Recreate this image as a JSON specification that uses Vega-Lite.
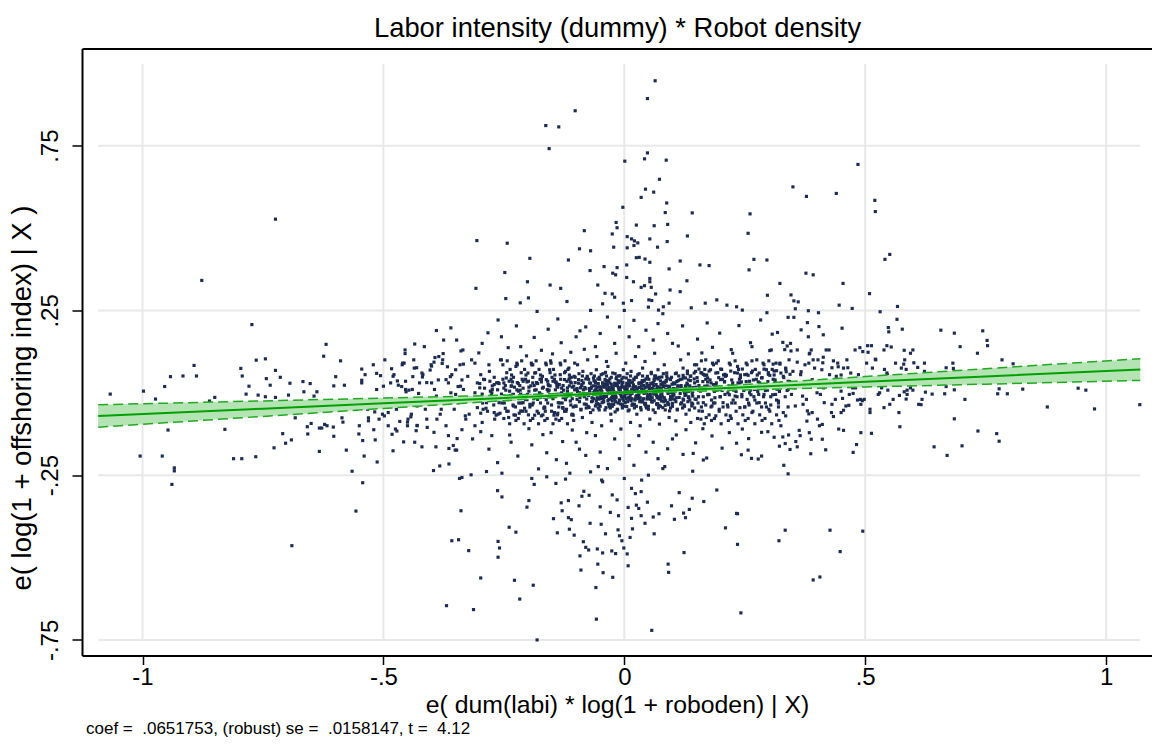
{
"$schema": "https://vega.github.io/schema/vega-lite/v6.json",
"autosize": "none",
"width": 1070,
"height": 607,
"padding": {"left": 82, "top": 48.5, "right": 0, "bottom": 97.5},
"background": "white",
"config": {"view": {"stroke": null}, "font": "Liberation Sans"},
"title": {"text": "coef = \u00a0.0651753, (robust) se = \u00a0.0158147, t = \u00a04.12", "orient": "bottom", "anchor": "start", "frame": "group", "font": "Liberation Sans", "fontSize": 17, "fontWeight": "normal", "color": "black", "offset": 4, "dx": 4},
"datasets": {
"hgrid": [{"v": -0.75}, {"v": -0.25}, {"v": 0.25}, {"v": 0.75}],
"vgrid": [{"v": -1}, {"v": -0.5}, {"v": 0}, {"v": 0.5}, {"v": 1}],
"fit": [{"x":-1.092,"fit":-0.0704,"lo":-0.1044,"hi":-0.0364},{"x":-0.75,"fit":-0.0481,"lo":-0.0716,"hi":-0.0246},{"x":-0.5,"fit":-0.0318,"lo":-0.0476,"hi":-0.016},{"x":-0.25,"fit":-0.0155,"lo":-0.0238,"hi":-0.0072},{"x":0,"fit":0.0008,"lo":-0.0022,"hi":0.0038},{"x":0.25,"fit":0.0171,"lo":0.0088,"hi":0.0254},{"x":0.5,"fit":0.0334,"lo":0.0176,"hi":0.0492},{"x":0.75,"fit":0.0497,"lo":0.0262,"hi":0.0732},{"x":1.071,"fit":0.0706,"lo":0.0376,"hi":0.1036}],
"pts": [
{"x":0.064,"y":0.947},{"x":0.048,"y":0.893},{"x":-0.102,"y":0.856},{"x":-0.163,"y":0.811},{"x":-0.136,"y":0.807},{"x":-0.156,"y":0.741},{"x":0.048,"y":0.728},{"x":0.042,"y":0.71},{"x":0.087,"y":0.706},{"x":0.001,"y":0.703},{"x":0.485,"y":0.693},{"x":0.073,"y":0.648},{"x":0.044,"y":0.618},{"x":0.061,"y":0.609},{"x":0.35,"y":0.625},{"x":0.378,"y":0.596},{"x":0.44,"y":0.605},{"x":0.52,"y":0.584},{"x":0.521,"y":0.55},{"x":0.035,"y":0.593},{"x":0.088,"y":0.576},{"x":0.085,"y":0.547},{"x":0.141,"y":0.546},{"x":0.261,"y":0.543},{"x":-0.003,"y":0.563},{"x":-0.017,"y":0.517},{"x":-0.015,"y":0.501},{"x":-0.025,"y":0.482},{"x":0.025,"y":0.509},{"x":0.062,"y":0.507},{"x":0.09,"y":0.511},{"x":-0.083,"y":0.492},{"x":-0.306,"y":0.462},{"x":-0.243,"y":0.454},{"x":0.006,"y":0.474},{"x":0.015,"y":0.467},{"x":0.021,"y":0.461},{"x":0.028,"y":0.455},{"x":0.053,"y":0.467},{"x":0.131,"y":0.476},{"x":0.257,"y":0.484},{"x":0.089,"y":0.459},{"x":-0.022,"y":0.442},{"x":0.006,"y":0.44},{"x":0.02,"y":0.447},{"x":0.069,"y":0.442},{"x":-0.093,"y":0.437},{"x":-0.07,"y":0.431},{"x":0.551,"y":0.42},{"x":0.541,"y":0.405},{"x":-0.724,"y":0.527},
{"x":-0.877,"y":0.341},{"x":-0.773,"y":0.207},{"x":-0.619,"y":0.147},{"x":-0.624,"y":0.111},{"x":-0.589,"y":0.097},{"x":-0.764,"y":0.099},{"x":-0.745,"y":0.103},{"x":-0.893,"y":0.083},{"x":-0.796,"y":0.074},{"x":-0.942,"y":0.049},{"x":-0.916,"y":0.051},{"x":-0.888,"y":0.051},{"x":-0.793,"y":0.051},{"x":-0.954,"y":0.019},{"x":-0.998,"y":0.005},{"x":-1.067,"y":-0.004},{"x":-0.973,"y":-0.019},{"x":-0.85,"y":-0.014},{"x":-0.861,"y":-0.025},{"x":-0.724,"y":0.068},{"x":-0.743,"y":0.043},{"x":-0.735,"y":0.023},{"x":-0.714,"y":0.047},{"x":-0.779,"y":0.02},{"x":-0.785,"y":-0.004},{"x":-0.76,"y":-0.007},{"x":-0.745,"y":-0.012},{"x":-0.724,"y":-0.014},{"x":-0.694,"y":0.029},{"x":-0.667,"y":0.034},{"x":-0.652,"y":0.028},{"x":-0.638,"y":0.003},{"x":-0.697,"y":-0.007},{"x":-0.665,"y":0.003},{"x":-0.644,"y":-0.01},{"x":-0.603,"y":0.021},{"x":-0.599,"y":0.049},{"x":-0.581,"y":0.023},{"x":-0.545,"y":0.072},{"x":-0.545,"y":0.038},{"x":-0.514,"y":0.059},{"x":-0.506,"y":0.052},{"x":-0.483,"y":0.073},{"x":-0.455,"y":0.119},{"x":-0.435,"y":0.148},{"x":-0.457,"y":0.09},{"x":-0.431,"y":0.076},{"x":-0.436,"y":0.075},{"x":-0.39,"y":0.189},{"x":-0.36,"y":0.197},{"x":-0.348,"y":0.16},{"x":-0.339,"y":0.127},{"x":-0.393,"y":0.107},{"x":-0.376,"y":0.119},
{"x":-0.947,"y":-0.113},{"x":-1.005,"y":-0.192},{"x":-0.959,"y":-0.192},{"x":-0.934,"y":-0.228},{"x":-0.934,"y":-0.237},{"x":-0.939,"y":-0.278},{"x":-0.829,"y":-0.111},{"x":-0.811,"y":-0.2},{"x":-0.794,"y":-0.2},{"x":-0.765,"y":-0.194},{"x":-0.727,"y":-0.167},{"x":-0.709,"y":-0.124},{"x":-0.703,"y":-0.153},{"x":-0.691,"y":-0.143},{"x":-0.683,"y":-0.076},{"x":-0.658,"y":-0.103},{"x":-0.657,"y":-0.125},{"x":-0.65,"y":-0.093},{"x":-0.633,"y":-0.107},{"x":-0.628,"y":-0.107},{"x":-0.622,"y":-0.096},{"x":-0.617,"y":-0.1},{"x":-0.604,"y":-0.104},{"x":-0.603,"y":-0.132},{"x":-0.633,"y":-0.178},{"x":-0.577,"y":-0.174},{"x":-0.565,"y":-0.238},{"x":-0.543,"y":-0.273},{"x":-0.557,"y":-0.359},{"x":-0.69,"y":-0.464},{"x":-0.54,"y":-0.192},{"x":-0.513,"y":-0.21},{"x":-0.517,"y":-0.143},{"x":-0.543,"y":-0.145},{"x":-0.551,"y":-0.125},{"x":-0.586,"y":-0.076},{"x":-0.584,"y":-0.089},{"x":-0.531,"y":-0.076},{"x":-0.531,"y":-0.085},{"x":-0.52,"y":-0.112},{"x":-0.518,"y":-0.058},
{"x":-0.498,"y":-0.07},{"x":-0.482,"y":-0.126},{"x":-0.472,"y":-0.116},{"x":-0.48,"y":-0.176},{"x":-0.458,"y":-0.149},{"x":-0.466,"y":-0.087},{"x":-0.45,"y":-0.089},{"x":-0.443,"y":-0.073},{"x":-0.432,"y":-0.115},{"x":-0.43,"y":-0.099},{"x":-0.42,"y":-0.164},{"x":-0.409,"y":-0.105},{"x":-0.391,"y":-0.164},{"x":-0.396,"y":-0.236},{"x":-0.383,"y":-0.222},{"x":-0.364,"y":-0.216},{"x":-0.364,"y":-0.169},{"x":-0.347,"y":-0.139},{"x":-0.348,"y":-0.174},{"x":-0.337,"y":-0.112},{"x":-0.337,"y":-0.257},{"x":-0.339,"y":-0.358},{"x":-0.358,"y":-0.449},{"x":-0.344,"y":-0.446},
{"x":-0.471,"y":0.036},{"x":-0.469,"y":0.023},{"x":-0.462,"y":0.019},{"x":-0.454,"y":0.035},{"x":-0.453,"y":0.003},{"x":-0.447,"y":0.008},{"x":-0.439,"y":0.049},{"x":-0.427,"y":-0.002},{"x":-0.419,"y":0.048},{"x":-0.41,"y":0.031},{"x":-0.403,"y":0.069},{"x":-0.4,"y":0.081},{"x":-0.395,"y":0.093},{"x":-0.386,"y":0.039},{"x":-0.378,"y":0.089},{"x":-0.367,"y":0.079},{"x":-0.361,"y":0.049},{"x":-0.345,"y":0.019},{"x":-0.334,"y":0.087},{"x":-0.337,"y":0.039},
{"x":0.377,"y":0.363},{"x":0.392,"y":0.358},{"x":0.454,"y":0.332},{"x":0.509,"y":0.301},{"x":0.352,"y":0.279},{"x":0.446,"y":0.266},{"x":0.473,"y":0.256},{"x":0.355,"y":0.255},{"x":0.382,"y":0.249},{"x":0.403,"y":0.243},{"x":0.531,"y":0.246},{"x":0.567,"y":0.262},{"x":0.566,"y":0.223},{"x":0.34,"y":0.229},{"x":0.352,"y":0.229},{"x":0.38,"y":0.213},{"x":0.404,"y":0.201},{"x":0.452,"y":0.196},{"x":0.367,"y":0.191},{"x":0.413,"y":0.176},{"x":0.382,"y":0.17},
{"x":0.548,"y":0.198},{"x":0.549,"y":0.185},{"x":0.577,"y":0.193},{"x":0.657,"y":0.19},{"x":0.685,"y":0.181},{"x":0.744,"y":0.188},{"x":0.753,"y":0.159},{"x":0.754,"y":0.143},{"x":0.697,"y":0.14},
{"x":0.489,"y":0.137},{"x":0.505,"y":0.143},{"x":0.513,"y":0.143},{"x":0.495,"y":0.125},{"x":0.506,"y":0.123},{"x":0.545,"y":0.143},{"x":0.554,"y":0.139},{"x":0.581,"y":0.129},{"x":0.594,"y":0.12},{"x":0.521,"y":0.102},{"x":0.601,"y":0.091},{"x":0.58,"y":0.087},{"x":0.585,"y":0.071},{"x":0.609,"y":0.077},{"x":0.623,"y":0.065},{"x":0.668,"y":0.076},{"x":0.682,"y":0.09},{"x":0.683,"y":0.074},{"x":0.733,"y":0.12},{"x":0.784,"y":0.1},{"x":0.807,"y":0.088},{"x":0.54,"y":0.071},
{"x":0.547,"y":0.008},{"x":0.571,"y":-0.008},{"x":0.581,"y":0.003},{"x":0.585,"y":-0.019},{"x":0.587,"y":0.008},{"x":0.599,"y":0.008},{"x":0.616,"y":-0.036},{"x":0.625,"y":0.002},{"x":0.639,"y":-0.004},{"x":0.665,"y":-0.003},{"x":0.707,"y":-0.02},{"x":0.685,"y":0.009},{"x":0.668,"y":0.019},{"x":0.775,"y":-0.003},{"x":0.795,"y":-0.003},{"x":0.778,"y":0.012},{"x":0.827,"y":0.011},{"x":0.942,"y":0.014},{"x":0.958,"y":0.008},{"x":0.878,"y":-0.043},{"x":0.976,"y":-0.049},{"x":1.07,"y":-0.036},{"x":0.539,"y":-0.045},{"x":0.572,"y":-0.103},{"x":0.685,"y":-0.079},{"x":0.734,"y":-0.116},{"x":0.773,"y":-0.124},{"x":0.778,"y":-0.147},{"x":0.701,"y":-0.161},{"x":0.643,"y":-0.164},{"x":0.67,"y":-0.19},
{"x":0.513,"y":-0.123},{"x":0.491,"y":-0.121},{"x":0.482,"y":-0.157},{"x":0.475,"y":-0.181},{"x":0.455,"y":-0.114},{"x":0.418,"y":-0.173},{"x":0.411,"y":-0.141},{"x":0.388,"y":-0.141},{"x":0.387,"y":-0.185},{"x":0.384,"y":-0.121},{"x":0.363,"y":-0.114},{"x":0.359,"y":-0.164},{"x":0.356,"y":-0.148},{"x":0.344,"y":-0.172},{"x":0.334,"y":-0.154},{"x":0.331,"y":-0.22},{"x":0.34,"y":-0.246},{"x":0.334,"y":-0.417},{"x":0.321,"y":-0.449},{"x":0.427,"y":-0.417},{"x":0.448,"y":-0.482},{"x":0.311,"y":-0.135},{"x":0.329,"y":-0.134},
{"x":0.434,"y":-0.072},{"x":0.455,"y":-0.053},{"x":0.466,"y":-0.038},{"x":0.475,"y":-0.002},{"x":0.484,"y":-0.022},{"x":0.494,"y":-0.024},{"x":0.453,"y":-0.017},{"x":0.411,"y":-0.096},{"x":0.401,"y":-0.08},{"x":0.383,"y":-0.064},{"x":0.379,"y":-0.086},
{"x":0.431,"y":0.076},{"x":0.444,"y":0.079},{"x":0.464,"y":0.076},{"x":0.45,"y":0.054},{"x":0.466,"y":0.019},{"x":0.434,"y":0.097},{"x":0.413,"y":0.108},{"x":0.412,"y":0.091},{"x":0.392,"y":0.1},{"x":0.388,"y":0.13},{"x":0.384,"y":0.118},{"x":0.359,"y":0.093},{"x":0.367,"y":0.064},{"x":0.346,"y":0.127},{"x":0.333,"y":0.131},{"x":0.329,"y":0.153},{"x":0.307,"y":0.178},{"x":0.309,"y":0.087},{"x":0.316,"y":0.067},{"x":0.323,"y":0.087},{"x":0.336,"y":0.064},
{"x":-0.263,"y":-0.297},{"x":-0.254,"y":-0.316},{"x":-0.187,"y":-0.278},{"x":-0.142,"y":-0.275},{"x":-0.323,"y":-0.479},{"x":-0.298,"y":-0.562},{"x":-0.369,"y":-0.646},{"x":-0.313,"y":-0.658},{"x":-0.262,"y":-0.451},{"x":-0.259,"y":-0.471},{"x":-0.262,"y":-0.499},{"x":-0.239,"y":-0.408},{"x":-0.225,"y":-0.423},{"x":-0.228,"y":-0.569},{"x":-0.217,"y":-0.626},{"x":-0.189,"y":-0.584},{"x":-0.198,"y":-0.327},{"x":-0.202,"y":-0.347},{"x":-0.181,"y":-0.75},
{"x":-0.131,"y":-0.334},{"x":-0.129,"y":-0.358},{"x":-0.116,"y":-0.327},{"x":-0.147,"y":-0.382},{"x":-0.139,"y":-0.425},{"x":-0.116,"y":-0.379},{"x":-0.11,"y":-0.385},{"x":-0.114,"y":-0.414},{"x":-0.104,"y":-0.432},{"x":-0.094,"y":-0.343},{"x":-0.092,"y":-0.495},{"x":-0.09,"y":-0.538},{"x":-0.088,"y":-0.314},{"x":-0.084,"y":-0.299},{"x":-0.073,"y":-0.311},{"x":-0.085,"y":-0.452},{"x":-0.08,"y":-0.469},{"x":-0.074,"y":-0.477},{"x":-0.071,"y":-0.396},{"x":-0.059,"y":-0.591},{"x":-0.058,"y":-0.687},{"x":-0.056,"y":-0.474},{"x":-0.055,"y":-0.52},{"x":-0.05,"y":-0.346},{"x":-0.048,"y":-0.399},{"x":-0.045,"y":-0.486},{"x":-0.044,"y":-0.546},{"x":-0.039,"y":-0.428},{"x":-0.029,"y":-0.363},{"x":-0.026,"y":-0.48},{"x":-0.024,"y":-0.56},{"x":-0.018,"y":-0.488},{"x":-0.015,"y":-0.325},{"x":-0.013,"y":-0.416},{"x":-0.012,"y":-0.373},{"x":-0.01,"y":-0.434},{"x":-0.005,"y":-0.449},{"x":-0.001,"y":-0.471},{"x":0.006,"y":-0.489},{"x":0.008,"y":-0.525},{"x":0.008,"y":-0.348},{"x":0.012,"y":-0.439},{"x":0.015,"y":-0.381},{"x":0.017,"y":-0.413},{"x":0.023,"y":-0.306},{"x":0.025,"y":-0.341},{"x":0.03,"y":-0.351},{"x":0.035,"y":-0.373},{"x":0.043,"y":-0.396},{"x":0.048,"y":-0.332},{"x":0.057,"y":-0.721},{"x":0.06,"y":-0.377},{"x":0.062,"y":-0.428},{"x":0.072,"y":-0.367},{"x":0.091,"y":-0.52},{"x":0.092,"y":-0.545},{"x":0.098,"y":-0.343},{"x":0.104,"y":-0.384},{"x":0.114,"y":-0.303},{"x":0.123,"y":-0.365},{"x":0.124,"y":-0.485},{"x":0.127,"y":-0.379},{"x":0.135,"y":-0.354},{"x":0.141,"y":-0.32},{"x":0.235,"y":-0.367},{"x":0.235,"y":-0.46},
{"x":0.242,"y":-0.668},{"x":0.392,"y":-0.568},{"x":0.406,"y":-0.559},{"x":0.495,"y":-0.42},{"x":0.192,"y":-0.295},{"x":0.165,"y":-0.33},{"x":0.21,"y":-0.41},{"x":0.233,"y":-0.366},
{"x":-0.196,"y":0.408},{"x":-0.116,"y":0.403},{"x":-0.248,"y":0.365},{"x":-0.308,"y":0.317},{"x":-0.201,"y":0.337},{"x":-0.154,"y":0.327},{"x":-0.132,"y":0.317},{"x":-0.246,"y":0.286},{"x":-0.216,"y":0.273},{"x":-0.199,"y":0.288},{"x":-0.071,"y":0.371},{"x":-0.042,"y":0.383},{"x":-0.024,"y":0.363},{"x":-0.018,"y":0.358},{"x":-0.055,"y":0.327},{"x":-0.04,"y":0.302},{"x":-0.02,"y":0.29},{"x":-0.002,"y":0.272},{"x":0.005,"y":0.388},{"x":0.031,"y":0.411},{"x":0.043,"y":0.406},{"x":0.053,"y":0.396},{"x":0.053,"y":0.347},{"x":0.053,"y":0.337},{"x":0.019,"y":0.337},{"x":0.042,"y":0.325},{"x":0.056,"y":0.32},{"x":0.093,"y":0.376},{"x":0.116,"y":0.4},{"x":0.13,"y":0.34},{"x":0.157,"y":0.388},{"x":0.176,"y":0.386},{"x":0.051,"y":0.282},{"x":0.057,"y":0.28},{"x":0.095,"y":0.312},{"x":0.116,"y":0.307},{"x":0.093,"y":0.272},{"x":0.081,"y":0.261},{"x":0.071,"y":0.251},{"x":0.168,"y":0.272},{"x":0.192,"y":0.282},{"x":0.213,"y":0.266},{"x":0.233,"y":0.261},{"x":0.245,"y":0.251},{"x":0.259,"y":0.373},{"x":0.269,"y":0.405},{"x":0.296,"y":0.403},{"x":0.323,"y":0.332},{"x":0.297,"y":0.296},{"x":0.346,"y":0.297},{"x":0.361,"y":0.276},{"x":0.296,"y":0.243},
{"x":-0.351,"y":-0.174},{"x":-0.342,"y":-0.26},{"x":-0.318,"y":-0.249},{"x":-0.286,"y":-0.239},{"x":-0.254,"y":-0.244},{"x":-0.192,"y":-0.26},{"x":-0.161,"y":-0.255},{"x":-0.12,"y":-0.214},{"x":-0.113,"y":-0.244},{"x":-0.054,"y":-0.224},{"x":-0.047,"y":-0.265},{"x":0.036,"y":-0.265},{"x":0.084,"y":-0.224},{"x":0.143,"y":-0.184},{"x":0.164,"y":-0.204},{"x":0.233,"y":-0.153},{"x":0.257,"y":-0.174},{"x":0.264,"y":-0.199},{"x":0.285,"y":-0.192},
{"x":-0.19,"y":0.03},{"x":-0.18,"y":-0.02},{"x":-0.17,"y":0.05},{"x":-0.165,"y":-0.045},{"x":-0.16,"y":0.01},{"x":-0.155,"y":0.07},{"x":-0.15,"y":-0.01},{"x":-0.148,"y":0.035},{"x":-0.145,"y":-0.06},{"x":-0.14,"y":0.02},{"x":-0.137,"y":-0.03},{"x":-0.133,"y":0.055},{"x":-0.13,"y":0.0},{"x":-0.127,"y":-0.015},{"x":-0.124,"y":0.04},{"x":-0.12,"y":-0.05},{"x":-0.118,"y":0.015},{"x":-0.115,"y":0.075},{"x":-0.112,"y":-0.025},{"x":-0.11,"y":0.03},{"x":-0.107,"y":-0.005},{"x":-0.104,"y":0.05},{"x":-0.102,"y":-0.04},{"x":-0.1,"y":0.01},{"x":-0.196,"y":-0.035},{"x":-0.186,"y":0.06},{"x":-0.176,"y":0.0},{"x":-0.172,"y":-0.07},{"x":-0.162,"y":0.04},{"x":-0.152,"y":0.09},{"x":-0.142,"y":-0.08},{"x":-0.135,"y":0.025},{"x":-0.122,"y":0.065},{"x":-0.108,"y":-0.065},{"x":-0.19,"y":0.085},{"x":-0.168,"y":-0.01},{"x":-0.158,"y":0.025},{"x":-0.128,"y":-0.045},{"x":-0.113,"y":0.045},{"x":-0.105,"y":0.02},
{"x":-0.098,"y":-0.02},{"x":-0.095,"y":0.04},{"x":-0.093,"y":0.0},{"x":-0.09,"y":-0.05},{"x":-0.088,"y":0.025},{"x":-0.086,"y":0.065},{"x":-0.083,"y":-0.012},{"x":-0.081,"y":0.012},{"x":-0.079,"y":-0.035},{"x":-0.077,"y":0.05},{"x":-0.075,"y":-0.003},{"x":-0.072,"y":0.03},{"x":-0.07,"y":-0.06},{"x":-0.068,"y":0.018},{"x":-0.066,"y":-0.025},{"x":-0.064,"y":0.045},{"x":-0.062,"y":0.005},{"x":-0.06,"y":-0.04},{"x":-0.058,"y":0.07},{"x":-0.056,"y":-0.015},{"x":-0.054,"y":0.028},{"x":-0.052,"y":-0.052},{"x":-0.05,"y":0.008},{"x":-0.048,"y":0.055},{"x":-0.046,"y":-0.03},{"x":-0.044,"y":0.02},{"x":-0.042,"y":-0.008},{"x":-0.04,"y":0.04},{"x":-0.038,"y":-0.045},{"x":-0.036,"y":0.012},{"x":-0.034,"y":0.08},{"x":-0.032,"y":-0.02},{"x":-0.03,"y":0.03},{"x":-0.028,"y":-0.065},{"x":-0.026,"y":0.002},{"x":-0.024,"y":0.06},{"x":-0.022,"y":-0.035},{"x":-0.02,"y":0.022},{"x":-0.018,"y":-0.01},{"x":-0.016,"y":0.048},{"x":-0.014,"y":-0.05},{"x":-0.012,"y":0.015},{"x":-0.01,"y":-0.022},{"x":-0.008,"y":0.035},{"x":-0.006,"y":0.0},{"x":-0.004,"y":-0.04},{"x":-0.002,"y":0.07},{"x":-0.097,"y":0.085},{"x":-0.087,"y":-0.075},{"x":-0.076,"y":0.1},{"x":-0.067,"y":-0.09},{"x":-0.057,"y":0.11},{"x":-0.047,"y":-0.1},{"x":-0.037,"y":0.095},{"x":-0.027,"y":-0.085},{"x":-0.017,"y":0.12},{"x":-0.007,"y":-0.11},{"x":-0.091,"y":0.015},{"x":-0.073,"y":-0.045},{"x":-0.061,"y":0.035},{"x":-0.049,"y":-0.018},{"x":-0.039,"y":0.062},{"x":-0.029,"y":0.01},{"x":-0.019,"y":-0.058},{"x":-0.009,"y":0.052},{"x":-0.003,"y":-0.015},{"x":-0.065,"y":0.0},{"x":-0.045,"y":0.03},{"x":-0.025,"y":-0.025},{"x":-0.005,"y":0.025},
{"x":0.002,"y":-0.03},{"x":0.004,"y":0.045},{"x":0.006,"y":0.01},{"x":0.008,"y":-0.055},{"x":0.01,"y":0.028},{"x":0.012,"y":-0.012},{"x":0.014,"y":0.065},{"x":0.016,"y":-0.038},{"x":0.018,"y":0.005},{"x":0.02,"y":0.04},{"x":0.022,"y":-0.022},{"x":0.024,"y":0.018},{"x":0.026,"y":-0.065},{"x":0.028,"y":0.055},{"x":0.03,"y":-0.005},{"x":0.032,"y":0.03},{"x":0.034,"y":-0.045},{"x":0.036,"y":0.012},{"x":0.038,"y":0.075},{"x":0.04,"y":-0.018},{"x":0.042,"y":0.038},{"x":0.044,"y":-0.032},{"x":0.046,"y":0.0},{"x":0.048,"y":0.05},{"x":0.05,"y":-0.05},{"x":0.052,"y":0.022},{"x":0.054,"y":-0.01},{"x":0.056,"y":0.062},{"x":0.058,"y":-0.028},{"x":0.06,"y":0.01},{"x":0.062,"y":0.042},{"x":0.064,"y":-0.06},{"x":0.066,"y":0.025},{"x":0.068,"y":-0.015},{"x":0.07,"y":0.07},{"x":0.072,"y":-0.038},{"x":0.074,"y":0.015},{"x":0.076,"y":-0.002},{"x":0.078,"y":0.048},{"x":0.08,"y":-0.045},{"x":0.082,"y":0.032},{"x":0.084,"y":-0.02},{"x":0.086,"y":0.008},{"x":0.088,"y":0.06},{"x":0.09,"y":-0.03},{"x":0.092,"y":0.02},{"x":0.094,"y":-0.055},{"x":0.096,"y":0.04},{"x":0.098,"y":0.0},{"x":0.003,"y":0.09},{"x":0.013,"y":-0.09},{"x":0.023,"y":0.11},{"x":0.033,"y":-0.1},{"x":0.043,"y":0.095},{"x":0.053,"y":-0.08},{"x":0.063,"y":0.12},{"x":0.073,"y":-0.095},{"x":0.083,"y":0.085},{"x":0.093,"y":-0.075},{"x":0.007,"y":0.02},{"x":0.017,"y":0.032},{"x":0.027,"y":-0.008},{"x":0.037,"y":-0.028},{"x":0.047,"y":0.028},{"x":0.057,"y":0.005},{"x":0.067,"y":0.045},{"x":0.077,"y":-0.025},{"x":0.087,"y":0.035},{"x":0.097,"y":-0.012},{"x":0.011,"y":-0.02},
{"x":0.102,"y":0.03},{"x":0.105,"y":-0.02},{"x":0.108,"y":0.06},{"x":0.11,"y":-0.05},{"x":0.113,"y":0.01},{"x":0.116,"y":0.04},{"x":0.119,"y":-0.03},{"x":0.122,"y":0.075},{"x":0.125,"y":0.0},{"x":0.128,"y":-0.065},{"x":0.131,"y":0.025},{"x":0.134,"y":-0.012},{"x":0.137,"y":0.05},{"x":0.14,"y":-0.04},{"x":0.143,"y":0.015},{"x":0.146,"y":0.085},{"x":0.149,"y":-0.02},{"x":0.152,"y":0.035},{"x":0.155,"y":-0.055},{"x":0.158,"y":0.005},{"x":0.161,"y":0.06},{"x":0.164,"y":-0.03},{"x":0.167,"y":0.02},{"x":0.17,"y":-0.075},{"x":0.173,"y":0.045},{"x":0.176,"y":-0.005},{"x":0.179,"y":0.07},{"x":0.182,"y":-0.04},{"x":0.185,"y":0.025},{"x":0.188,"y":-0.015},{"x":0.191,"y":0.09},{"x":0.194,"y":0.01},{"x":0.197,"y":-0.05},{"x":0.2,"y":0.04},{"x":0.107,"y":-0.085},{"x":0.117,"y":0.1},{"x":0.127,"y":0.045},{"x":0.138,"y":-0.09},{"x":0.148,"y":0.065},{"x":0.159,"y":-0.08},{"x":0.169,"y":0.1},{"x":0.18,"y":0.03},{"x":0.19,"y":-0.07},{"x":0.112,"y":0.02},{"x":0.142,"y":-0.01},
{"x":-0.059,"y":0.021},{"x":-0.055,"y":-0.033},{"x":-0.051,"y":0.041},{"x":-0.047,"y":0.004},{"x":-0.043,"y":-0.027},{"x":-0.041,"y":0.017},{"x":-0.037,"y":-0.011},{"x":-0.033,"y":0.036},{"x":-0.031,"y":-0.042},{"x":-0.027,"y":0.026},{"x":-0.023,"y":0.0},{"x":-0.021,"y":-0.019},{"x":-0.017,"y":0.043},{"x":-0.013,"y":-0.031},{"x":-0.011,"y":0.009},{"x":-0.007,"y":-0.006},{"x":-0.003,"y":0.031},{"x":-0.001,"y":-0.025},{"x":0.001,"y":0.012},{"x":0.005,"y":-0.042},{"x":0.009,"y":0.038},{"x":0.011,"y":0.002},{"x":0.015,"y":-0.018},{"x":0.019,"y":0.024},{"x":0.021,"y":-0.035},{"x":0.025,"y":0.047},{"x":0.029,"y":-0.009},{"x":0.031,"y":0.016},{"x":0.035,"y":-0.026},{"x":0.039,"y":0.034},{"x":0.041,"y":0.003},{"x":0.045,"y":-0.041},{"x":0.049,"y":0.019},{"x":0.051,"y":0.041},{"x":0.055,"y":-0.02},{"x":0.059,"y":0.028},{"x":0.061,"y":-0.004},{"x":0.065,"y":0.051},{"x":0.069,"y":-0.033},{"x":0.071,"y":0.007},{"x":0.075,"y":0.036},{"x":0.079,"y":-0.012},{"x":0.081,"y":0.019},{"x":0.085,"y":-0.038},{"x":0.089,"y":0.044},{"x":0.091,"y":0.002},{"x":0.095,"y":-0.021},{"x":0.099,"y":0.026},{"x":0.103,"y":-0.006},{"x":0.106,"y":0.012},{"x":0.109,"y":0.034},{"x":0.114,"y":-0.014},{"x":0.118,"y":0.022},{"x":-0.052,"y":0.018},{"x":-0.044,"y":-0.003},{"x":-0.035,"y":0.023},{"x":-0.026,"y":-0.014},{"x":-0.015,"y":0.027},{"x":-0.006,"y":-0.012},{"x":0.004,"y":0.021},{"x":0.013,"y":-0.004},{"x":0.022,"y":0.008},{"x":0.031,"y":-0.017},{"x":0.04,"y":0.022},{"x":0.049,"y":-0.007},{"x":0.058,"y":0.014},{"x":0.067,"y":-0.008},{"x":0.076,"y":0.025},{"x":0.085,"y":0.009},{"x":0.094,"y":0.014},{"x":0.1,"y":-0.032},{"x":-0.069,"y":0.013},{"x":-0.063,"y":-0.018},{"x":-0.074,"y":0.041},{"x":0.123,"y":-0.022},{"x":0.128,"y":0.018},{"x":0.133,"y":0.004},{"x":-0.08,"y":-0.005},{"x":-0.085,"y":0.03},
{"x":-0.5,"y":0.02},{"x":-0.49,"y":-0.06},{"x":-0.48,"y":0.05},{"x":-0.47,"y":-0.02},{"x":-0.46,"y":0.09},{"x":-0.45,"y":-0.1},{"x":-0.44,"y":0.01},{"x":-0.43,"y":-0.04},{"x":-0.42,"y":0.06},{"x":-0.41,"y":-0.08},{"x":-0.4,"y":0.03},{"x":-0.39,"y":-0.01},{"x":-0.385,"y":0.11},{"x":-0.38,"y":-0.05},{"x":-0.37,"y":0.04},{"x":-0.365,"y":-0.13},{"x":-0.36,"y":0.0},{"x":-0.35,"y":0.07},{"x":-0.345,"y":-0.03},{"x":-0.34,"y":0.02},{"x":-0.33,"y":-0.07},{"x":-0.325,"y":0.05},{"x":-0.32,"y":-0.015},{"x":-0.31,"y":0.09},{"x":-0.305,"y":-0.045},{"x":-0.3,"y":0.015},{"x":-0.295,"y":-0.09},{"x":-0.29,"y":0.04},{"x":-0.285,"y":-0.02},{"x":-0.28,"y":0.065},{"x":-0.275,"y":0.0},{"x":-0.27,"y":-0.06},{"x":-0.265,"y":0.03},{"x":-0.26,"y":-0.03},{"x":-0.255,"y":0.1},{"x":-0.25,"y":-0.01},{"x":-0.245,"y":0.045},{"x":-0.24,"y":-0.075},{"x":-0.235,"y":0.02},{"x":-0.23,"y":-0.04},{"x":-0.225,"y":0.08},{"x":-0.22,"y":0.005},{"x":-0.215,"y":-0.055},{"x":-0.21,"y":0.035},{"x":-0.205,"y":-0.02},{"x":-0.2,"y":0.06},{"x":-0.475,"y":-0.11},{"x":-0.455,"y":0.13},{"x":-0.435,"y":-0.15},{"x":-0.415,"y":0.14},{"x":-0.395,"y":-0.12},{"x":-0.375,"y":0.16},{"x":-0.355,"y":-0.16},{"x":-0.335,"y":0.13},{"x":-0.315,"y":-0.14},{"x":-0.295,"y":0.15},{"x":-0.275,"y":-0.13},{"x":-0.255,"y":0.17},{"x":-0.235,"y":-0.15},{"x":-0.215,"y":0.14},{"x":-0.31,"y":0.0},{"x":-0.27,"y":0.025},{"x":-0.23,"y":-0.005},{"x":-0.35,"y":-0.005},{"x":-0.25,"y":0.03},{"x":-0.21,"y":-0.03},
{"x":0.205,"y":-0.03},{"x":0.21,"y":0.05},{"x":0.215,"y":0.0},{"x":0.22,"y":-0.07},{"x":0.225,"y":0.03},{"x":0.23,"y":-0.01},{"x":0.235,"y":0.08},{"x":0.24,"y":-0.045},{"x":0.245,"y":0.015},{"x":0.25,"y":0.055},{"x":0.255,"y":-0.02},{"x":0.26,"y":0.035},{"x":0.265,"y":-0.06},{"x":0.27,"y":0.01},{"x":0.275,"y":0.1},{"x":0.28,"y":-0.03},{"x":0.285,"y":0.045},{"x":0.29,"y":-0.005},{"x":0.295,"y":0.07},{"x":0.3,"y":-0.05},{"x":0.31,"y":0.02},{"x":0.315,"y":0.09},{"x":0.32,"y":-0.025},{"x":0.33,"y":0.05},{"x":0.335,"y":-0.07},{"x":0.34,"y":0.01},{"x":0.35,"y":0.065},{"x":0.355,"y":-0.04},{"x":0.36,"y":0.03},{"x":0.37,"y":-0.01},{"x":0.375,"y":0.085},{"x":0.38,"y":-0.055},{"x":0.39,"y":0.04},{"x":0.4,"y":0.0},{"x":0.41,"y":0.07},{"x":0.415,"y":-0.03},{"x":0.42,"y":0.025},{"x":0.43,"y":-0.06},{"x":0.44,"y":0.05},{"x":0.45,"y":0.005},{"x":0.46,"y":-0.04},{"x":0.47,"y":0.06},{"x":0.48,"y":0.015},{"x":0.49,"y":-0.02},{"x":0.5,"y":0.045},{"x":0.51,"y":-0.05},{"x":0.52,"y":0.03},{"x":0.53,"y":0.0},{"x":0.545,"y":0.06},{"x":0.225,"y":0.12},{"x":0.245,"y":-0.11},{"x":0.265,"y":0.14},{"x":0.285,"y":-0.12},{"x":0.305,"y":0.13},{"x":0.325,"y":-0.1},{"x":0.345,"y":0.15},{"x":0.365,"y":-0.13},{"x":0.385,"y":0.12},{"x":0.405,"y":-0.1},{"x":0.425,"y":0.13},{"x":0.445,"y":-0.11},{"x":0.26,"y":0.0},{"x":0.3,"y":0.025},{"x":0.34,"y":0.035},{"x":0.24,"y":0.03},
{"x":-0.02,"y":0.15},{"x":0.01,"y":0.17},{"x":0.03,"y":0.14},{"x":-0.05,"y":0.18},{"x":0.06,"y":0.16},{"x":-0.01,"y":0.2},{"x":0.02,"y":0.22},{"x":0.045,"y":0.19},{"x":-0.035,"y":0.23},{"x":0.0,"y":0.25},{"x":0.07,"y":0.21},{"x":-0.06,"y":0.14},{"x":0.015,"y":0.28},{"x":-0.025,"y":0.3},{"x":0.05,"y":0.26},{"x":0.035,"y":0.32},{"x":-0.045,"y":0.27},{"x":0.005,"y":0.35},{"x":0.065,"y":0.3},{"x":-0.015,"y":0.38},{"x":0.025,"y":0.41},{"x":0.09,"y":0.18},{"x":-0.08,"y":0.2},{"x":0.1,"y":0.15},{"x":-0.1,"y":0.17},{"x":0.08,"y":0.24},{"x":-0.07,"y":0.25},
{"x":-0.02,"y":-0.14},{"x":0.01,"y":-0.16},{"x":0.03,"y":-0.13},{"x":-0.05,"y":-0.18},{"x":0.06,"y":-0.15},{"x":-0.01,"y":-0.2},{"x":0.02,"y":-0.22},{"x":0.045,"y":-0.18},{"x":-0.035,"y":-0.23},{"x":0.0,"y":-0.26},{"x":0.07,"y":-0.2},{"x":-0.06,"y":-0.13},{"x":0.015,"y":-0.29},{"x":-0.025,"y":-0.31},{"x":0.05,"y":-0.25},{"x":0.035,"y":-0.3},{"x":-0.045,"y":-0.27},{"x":-0.08,"y":-0.19},{"x":0.09,"y":-0.17},{"x":-0.1,"y":-0.15},{"x":0.1,"y":-0.14},{"x":0.08,"y":-0.23},{"x":-0.07,"y":-0.24},
{"x":-0.302,"y":0.121},{"x":-0.283,"y":0.182},{"x":-0.262,"y":0.221},{"x":-0.241,"y":0.137},{"x":-0.224,"y":0.203},{"x":-0.203,"y":0.112},{"x":-0.187,"y":0.168},{"x":-0.181,"y":0.247},{"x":-0.172,"y":0.129},{"x":-0.158,"y":0.193},{"x":-0.149,"y":0.118},{"x":-0.138,"y":0.224},{"x":-0.131,"y":0.152},{"x":-0.119,"y":0.277},{"x":-0.111,"y":0.123},{"x":-0.092,"y":0.188},{"x":-0.083,"y":0.132},{"x":0.112,"y":0.142},{"x":0.121,"y":0.203},{"x":0.133,"y":0.118},{"x":0.139,"y":0.258},{"x":0.152,"y":0.163},{"x":0.161,"y":0.121},{"x":0.172,"y":0.212},{"x":0.183,"y":0.138},{"x":0.198,"y":0.181},{"x":0.222,"y":0.131},{"x":0.238,"y":0.204},{"x":0.262,"y":0.152},{"x":0.283,"y":0.221},{"x":0.302,"y":0.128},{"x":0.318,"y":0.183},{"x":0.338,"y":0.142},
{"x":-0.298,"y":-0.118},{"x":-0.281,"y":-0.171},{"x":-0.263,"y":-0.212},{"x":-0.238,"y":-0.128},{"x":-0.221,"y":-0.192},{"x":-0.198,"y":-0.109},{"x":-0.192,"y":-0.158},{"x":-0.178,"y":-0.231},{"x":-0.169,"y":-0.127},{"x":-0.161,"y":-0.182},{"x":-0.152,"y":-0.121},{"x":-0.141,"y":-0.203},{"x":-0.128,"y":-0.148},{"x":-0.122,"y":-0.262},{"x":-0.108,"y":-0.113},{"x":-0.093,"y":-0.171},{"x":-0.078,"y":-0.121},{"x":0.108,"y":-0.128},{"x":0.122,"y":-0.187},{"x":0.128,"y":-0.112},{"x":0.142,"y":-0.238},{"x":0.148,"y":-0.152},{"x":0.163,"y":-0.109},{"x":0.171,"y":-0.198},{"x":0.182,"y":-0.131},{"x":0.203,"y":-0.168},{"x":0.218,"y":-0.121},{"x":0.243,"y":-0.188},{"x":0.258,"y":-0.139},{"x":0.278,"y":-0.201},{"x":0.298,"y":-0.118},{"x":0.322,"y":-0.162},{"x":0.341,"y":-0.128},
{"x":-0.1,"y":-0.041},{"x":-0.098,"y":0.013},{"x":-0.102,"y":0.047},{"x":-0.099,"y":-0.008},{"x":-0.095,"y":0.029},{"x":-0.093,"y":-0.027},{"x":-0.097,"y":0.004},{"x":-0.094,"y":0.058},{"x":-0.09,"y":-0.052},{"x":-0.088,"y":0.037},{"x":-0.092,"y":-0.015},{"x":-0.089,"y":0.021},{"x":-0.085,"y":0.009},{"x":-0.083,"y":-0.034},{"x":-0.087,"y":0.051},{"x":-0.084,"y":-0.002},{"x":-0.08,"y":0.042},{"x":-0.078,"y":-0.019},{"x":-0.082,"y":0.016},{"x":-0.079,"y":-0.046},
{"x":-0.075,"y":-0.041},{"x":-0.073,"y":0.013},{"x":-0.077,"y":0.047},{"x":-0.074,"y":-0.008},{"x":-0.07,"y":0.029},{"x":-0.068,"y":-0.027},{"x":-0.072,"y":0.004},{"x":-0.069,"y":0.058},{"x":-0.065,"y":-0.052},{"x":-0.063,"y":0.037},{"x":-0.067,"y":-0.015},{"x":-0.064,"y":0.021},{"x":-0.06,"y":0.009},{"x":-0.058,"y":-0.034},{"x":-0.062,"y":0.051},{"x":-0.059,"y":-0.002},{"x":-0.055,"y":0.042},{"x":-0.053,"y":-0.019},{"x":-0.057,"y":0.016},{"x":-0.054,"y":-0.046},
{"x":-0.05,"y":-0.041},{"x":-0.048,"y":0.013},{"x":-0.052,"y":0.047},{"x":-0.049,"y":-0.008},{"x":-0.045,"y":0.029},{"x":-0.043,"y":-0.027},{"x":-0.047,"y":0.004},{"x":-0.044,"y":0.058},{"x":-0.04,"y":-0.052},{"x":-0.038,"y":0.037},{"x":-0.042,"y":-0.015},{"x":-0.039,"y":0.021},{"x":-0.035,"y":0.009},{"x":-0.033,"y":-0.034},{"x":-0.037,"y":0.051},{"x":-0.034,"y":-0.002},{"x":-0.03,"y":0.042},{"x":-0.028,"y":-0.019},{"x":-0.032,"y":0.016},{"x":-0.029,"y":-0.046},
{"x":-0.025,"y":-0.041},{"x":-0.023,"y":0.013},{"x":-0.027,"y":0.047},{"x":-0.024,"y":-0.008},{"x":-0.02,"y":0.029},{"x":-0.018,"y":-0.027},{"x":-0.022,"y":0.004},{"x":-0.019,"y":0.058},{"x":-0.015,"y":-0.052},{"x":-0.013,"y":0.037},{"x":-0.017,"y":-0.015},{"x":-0.014,"y":0.021},{"x":-0.01,"y":0.009},{"x":-0.008,"y":-0.034},{"x":-0.012,"y":0.051},{"x":-0.009,"y":-0.002},{"x":-0.005,"y":0.042},{"x":-0.003,"y":-0.019},{"x":-0.007,"y":0.016},{"x":-0.004,"y":-0.046},
{"x":0.0,"y":-0.041},{"x":0.002,"y":0.013},{"x":-0.002,"y":0.047},{"x":0.001,"y":-0.008},{"x":0.005,"y":0.029},{"x":0.007,"y":-0.027},{"x":0.003,"y":0.004},{"x":0.006,"y":0.058},{"x":0.01,"y":-0.052},{"x":0.012,"y":0.037},{"x":0.008,"y":-0.015},{"x":0.011,"y":0.021},{"x":0.015,"y":0.009},{"x":0.017,"y":-0.034},{"x":0.013,"y":0.051},{"x":0.016,"y":-0.002},{"x":0.02,"y":0.042},{"x":0.022,"y":-0.019},{"x":0.018,"y":0.016},{"x":0.021,"y":-0.046},
{"x":0.025,"y":-0.041},{"x":0.027,"y":0.013},{"x":0.023,"y":0.047},{"x":0.026,"y":-0.008},{"x":0.03,"y":0.029},{"x":0.032,"y":-0.027},{"x":0.028,"y":0.004},{"x":0.031,"y":0.058},{"x":0.035,"y":-0.052},{"x":0.037,"y":0.037},{"x":0.033,"y":-0.015},{"x":0.036,"y":0.021},{"x":0.04,"y":0.009},{"x":0.042,"y":-0.034},{"x":0.038,"y":0.051},{"x":0.041,"y":-0.002},{"x":0.045,"y":0.042},{"x":0.047,"y":-0.019},{"x":0.043,"y":0.016},{"x":0.046,"y":-0.046},
{"x":0.05,"y":-0.041},{"x":0.052,"y":0.013},{"x":0.048,"y":0.047},{"x":0.051,"y":-0.008},{"x":0.055,"y":0.029},{"x":0.057,"y":-0.027},{"x":0.053,"y":0.004},{"x":0.056,"y":0.058},{"x":0.06,"y":-0.052},{"x":0.062,"y":0.037},{"x":0.058,"y":-0.015},{"x":0.061,"y":0.021},{"x":0.065,"y":0.009},{"x":0.067,"y":-0.034},{"x":0.063,"y":0.051},{"x":0.066,"y":-0.002},{"x":0.07,"y":0.042},{"x":0.072,"y":-0.019},{"x":0.068,"y":0.016},{"x":0.071,"y":-0.046},
{"x":0.075,"y":-0.041},{"x":0.077,"y":0.013},{"x":0.073,"y":0.047},{"x":0.076,"y":-0.008},{"x":0.08,"y":0.029},{"x":0.082,"y":-0.027},{"x":0.078,"y":0.004},{"x":0.081,"y":0.058},{"x":0.085,"y":-0.052},{"x":0.087,"y":0.037},{"x":0.083,"y":-0.015},{"x":0.086,"y":0.021},{"x":0.09,"y":0.009},{"x":0.092,"y":-0.034},{"x":0.088,"y":0.051},{"x":0.091,"y":-0.002},{"x":0.095,"y":0.042},{"x":0.097,"y":-0.019},{"x":0.093,"y":0.016},{"x":0.096,"y":-0.046},
{"x":0.1,"y":-0.041},{"x":0.102,"y":0.013},{"x":0.098,"y":0.047},{"x":0.101,"y":-0.008},{"x":0.105,"y":0.029},{"x":0.107,"y":-0.027},{"x":0.103,"y":0.004},{"x":0.106,"y":0.058},{"x":0.11,"y":-0.052},{"x":0.112,"y":0.037},{"x":0.108,"y":-0.015},{"x":0.111,"y":0.021},{"x":0.115,"y":0.009},{"x":0.117,"y":-0.034},{"x":0.113,"y":0.051},{"x":0.116,"y":-0.002},{"x":0.12,"y":0.042},{"x":0.122,"y":-0.019},{"x":0.118,"y":0.016},{"x":0.121,"y":-0.046},
{"x":0.125,"y":-0.041},{"x":0.127,"y":0.013},{"x":0.123,"y":0.047},{"x":0.126,"y":-0.008},{"x":0.13,"y":0.029},{"x":0.132,"y":-0.027},{"x":0.128,"y":0.004},{"x":0.131,"y":0.058},{"x":0.135,"y":-0.052},{"x":0.137,"y":0.037},{"x":0.133,"y":-0.015},{"x":0.136,"y":0.021},{"x":0.14,"y":0.009},{"x":0.142,"y":-0.034},{"x":0.138,"y":0.051},{"x":0.141,"y":-0.002},{"x":0.145,"y":0.042},{"x":0.147,"y":-0.019},{"x":0.143,"y":0.016},{"x":0.146,"y":-0.046},
{"x":-0.25,"y":-0.078},{"x":-0.247,"y":0.022},{"x":-0.252,"y":0.085},{"x":-0.249,"y":-0.031},{"x":-0.244,"y":0.061},{"x":-0.241,"y":-0.056},{"x":-0.246,"y":0.008},{"x":-0.243,"y":0.097},{"x":-0.238,"y":-0.094},{"x":-0.235,"y":0.041},{"x":-0.24,"y":-0.012},{"x":-0.237,"y":0.071},{"x":-0.232,"y":0.033},{"x":-0.229,"y":-0.067},{"x":-0.234,"y":0.054},{"x":-0.231,"y":-0.005},{"x":-0.226,"y":-0.043},{"x":-0.223,"y":0.09},{"x":-0.228,"y":0.017},{"x":-0.225,"y":-0.084},
{"x":-0.22,"y":-0.078},{"x":-0.217,"y":0.022},{"x":-0.222,"y":0.085},{"x":-0.219,"y":-0.031},{"x":-0.214,"y":0.061},{"x":-0.211,"y":-0.056},{"x":-0.216,"y":0.008},{"x":-0.213,"y":0.097},{"x":-0.208,"y":-0.094},{"x":-0.205,"y":0.041},{"x":-0.21,"y":-0.012},{"x":-0.207,"y":0.071},{"x":-0.202,"y":0.033},{"x":-0.199,"y":-0.067},{"x":-0.204,"y":0.054},{"x":-0.201,"y":-0.005},{"x":-0.196,"y":-0.043},{"x":-0.193,"y":0.09},{"x":-0.198,"y":0.017},{"x":-0.195,"y":-0.084},
{"x":-0.19,"y":-0.078},{"x":-0.187,"y":0.022},{"x":-0.192,"y":0.085},{"x":-0.189,"y":-0.031},{"x":-0.184,"y":0.061},{"x":-0.181,"y":-0.056},{"x":-0.186,"y":0.008},{"x":-0.183,"y":0.097},{"x":-0.178,"y":-0.094},{"x":-0.175,"y":0.041},{"x":-0.18,"y":-0.012},{"x":-0.177,"y":0.071},{"x":-0.172,"y":0.033},{"x":-0.169,"y":-0.067},{"x":-0.174,"y":0.054},{"x":-0.171,"y":-0.005},{"x":-0.166,"y":-0.043},{"x":-0.163,"y":0.09},{"x":-0.168,"y":0.017},{"x":-0.165,"y":-0.084},
{"x":-0.16,"y":-0.078},{"x":-0.157,"y":0.022},{"x":-0.162,"y":0.085},{"x":-0.159,"y":-0.031},{"x":-0.154,"y":0.061},{"x":-0.151,"y":-0.056},{"x":-0.156,"y":0.008},{"x":-0.153,"y":0.097},{"x":-0.148,"y":-0.094},{"x":-0.145,"y":0.041},{"x":-0.15,"y":-0.012},{"x":-0.147,"y":0.071},{"x":-0.142,"y":0.033},{"x":-0.139,"y":-0.067},{"x":-0.144,"y":0.054},{"x":-0.141,"y":-0.005},{"x":-0.136,"y":-0.043},{"x":-0.133,"y":0.09},{"x":-0.138,"y":0.017},{"x":-0.135,"y":-0.084},
{"x":-0.13,"y":-0.078},{"x":-0.127,"y":0.022},{"x":-0.132,"y":0.085},{"x":-0.129,"y":-0.031},{"x":-0.124,"y":0.061},{"x":-0.121,"y":-0.056},{"x":-0.126,"y":0.008},{"x":-0.123,"y":0.097},{"x":-0.118,"y":-0.094},{"x":-0.115,"y":0.041},{"x":-0.12,"y":-0.012},{"x":-0.117,"y":0.071},{"x":-0.112,"y":0.033},{"x":-0.109,"y":-0.067},{"x":-0.114,"y":0.054},{"x":-0.111,"y":-0.005},{"x":-0.106,"y":-0.043},{"x":-0.103,"y":0.09},{"x":-0.108,"y":0.017},{"x":-0.105,"y":-0.084},
{"x":0.152,"y":-0.078},{"x":0.155,"y":0.022},{"x":0.15,"y":0.085},{"x":0.153,"y":-0.031},{"x":0.159,"y":0.061},{"x":0.162,"y":-0.056},{"x":0.157,"y":0.008},{"x":0.16,"y":0.097},{"x":0.166,"y":-0.094},{"x":0.169,"y":0.041},{"x":0.164,"y":-0.012},{"x":0.167,"y":0.071},{"x":0.173,"y":0.033},{"x":0.176,"y":-0.067},{"x":0.171,"y":0.054},{"x":0.174,"y":-0.005},{"x":0.18,"y":-0.043},{"x":0.183,"y":0.09},{"x":0.178,"y":0.017},{"x":0.181,"y":-0.084},
{"x":0.187,"y":-0.078},{"x":0.19,"y":0.022},{"x":0.185,"y":0.085},{"x":0.188,"y":-0.031},{"x":0.194,"y":0.061},{"x":0.197,"y":-0.056},{"x":0.192,"y":0.008},{"x":0.195,"y":0.097},{"x":0.201,"y":-0.094},{"x":0.204,"y":0.041},{"x":0.199,"y":-0.012},{"x":0.202,"y":0.071},{"x":0.208,"y":0.033},{"x":0.211,"y":-0.067},{"x":0.206,"y":0.054},{"x":0.209,"y":-0.005},{"x":0.215,"y":-0.043},{"x":0.218,"y":0.09},{"x":0.213,"y":0.017},{"x":0.216,"y":-0.084},
{"x":0.222,"y":-0.078},{"x":0.225,"y":0.022},{"x":0.22,"y":0.085},{"x":0.223,"y":-0.031},{"x":0.229,"y":0.061},{"x":0.232,"y":-0.056},{"x":0.227,"y":0.008},{"x":0.23,"y":0.097},{"x":0.236,"y":-0.094},{"x":0.239,"y":0.041},{"x":0.234,"y":-0.012},{"x":0.237,"y":0.071},{"x":0.243,"y":0.033},{"x":0.246,"y":-0.067},{"x":0.241,"y":0.054},{"x":0.244,"y":-0.005},{"x":0.25,"y":-0.043},{"x":0.253,"y":0.09},{"x":0.248,"y":0.017},{"x":0.251,"y":-0.084},
{"x":0.257,"y":-0.078},{"x":0.26,"y":0.022},{"x":0.255,"y":0.085},{"x":0.258,"y":-0.031},{"x":0.264,"y":0.061},{"x":0.267,"y":-0.056},{"x":0.262,"y":0.008},{"x":0.265,"y":0.097},{"x":0.271,"y":-0.094},{"x":0.274,"y":0.041},{"x":0.269,"y":-0.012},{"x":0.272,"y":0.071},{"x":0.278,"y":0.033},{"x":0.281,"y":-0.067},{"x":0.276,"y":0.054},{"x":0.279,"y":-0.005},{"x":0.285,"y":-0.043},{"x":0.288,"y":0.09},{"x":0.283,"y":0.017},{"x":0.286,"y":-0.084},
{"x":0.292,"y":-0.078},{"x":0.295,"y":0.022},{"x":0.29,"y":0.085},{"x":0.293,"y":-0.031},{"x":0.299,"y":0.061},{"x":0.302,"y":-0.056},{"x":0.297,"y":0.008},{"x":0.3,"y":0.097},{"x":0.306,"y":-0.094},{"x":0.309,"y":0.041},{"x":0.304,"y":-0.012},{"x":0.307,"y":0.071},{"x":0.313,"y":0.033},{"x":0.316,"y":-0.067},{"x":0.311,"y":0.054},{"x":0.314,"y":-0.005},{"x":0.32,"y":-0.043},{"x":0.323,"y":0.09},{"x":0.318,"y":0.017},{"x":0.321,"y":-0.084},
{"x":-0.55,"y":-0.1},{"x":-0.545,"y":0.03},{"x":-0.538,"y":0.055},{"x":-0.533,"y":-0.05},{"x":-0.526,"y":-0.03},{"x":-0.521,"y":0.085},{"x":-0.514,"y":0.01},{"x":-0.509,"y":-0.08},{"x":-0.502,"y":-0.065},{"x":-0.497,"y":0.1},{"x":-0.49,"y":-0.1},{"x":-0.485,"y":0.03},{"x":-0.478,"y":0.055},{"x":-0.473,"y":-0.05},{"x":-0.466,"y":-0.03},{"x":-0.461,"y":0.085},{"x":-0.454,"y":0.01},{"x":-0.449,"y":-0.08},{"x":-0.442,"y":-0.065},{"x":-0.437,"y":0.1},{"x":-0.43,"y":-0.1},{"x":-0.425,"y":0.03},{"x":-0.418,"y":0.055},{"x":-0.413,"y":-0.05},{"x":-0.406,"y":-0.03},{"x":-0.401,"y":0.085},{"x":-0.394,"y":0.01},{"x":-0.389,"y":-0.08},{"x":-0.382,"y":-0.065},{"x":-0.377,"y":0.1},{"x":-0.37,"y":-0.1},{"x":-0.365,"y":0.03},{"x":-0.358,"y":0.055},{"x":-0.353,"y":-0.05},{"x":-0.346,"y":-0.03},{"x":-0.341,"y":0.085},{"x":-0.334,"y":0.01},{"x":-0.329,"y":-0.08},{"x":-0.322,"y":-0.065},{"x":-0.317,"y":0.1},{"x":-0.31,"y":-0.1},{"x":-0.305,"y":0.03},{"x":-0.298,"y":0.055},{"x":-0.293,"y":-0.05},{"x":-0.286,"y":-0.03},{"x":-0.281,"y":0.085},{"x":-0.274,"y":0.01},{"x":-0.269,"y":-0.08},{"x":-0.262,"y":-0.065},{"x":-0.257,"y":0.1},
{"x":0.33,"y":-0.06},{"x":0.335,"y":0.075},{"x":0.342,"y":0.1},{"x":0.347,"y":-0.005},{"x":0.354,"y":0.015},{"x":0.359,"y":0.13},{"x":0.366,"y":0.055},{"x":0.371,"y":-0.035},{"x":0.378,"y":-0.02},{"x":0.383,"y":0.09},{"x":0.39,"y":-0.06},{"x":0.395,"y":0.075},{"x":0.402,"y":0.1},{"x":0.407,"y":-0.005},{"x":0.414,"y":0.015},{"x":0.419,"y":0.13},{"x":0.426,"y":0.055},{"x":0.431,"y":-0.035},{"x":0.438,"y":-0.02},{"x":0.443,"y":0.09},{"x":0.45,"y":-0.06},{"x":0.455,"y":0.075},{"x":0.462,"y":0.1},{"x":0.467,"y":-0.005},{"x":0.474,"y":0.015},{"x":0.479,"y":0.13},{"x":0.486,"y":0.055},{"x":0.491,"y":-0.035},{"x":0.498,"y":-0.02},{"x":0.503,"y":0.09},{"x":0.51,"y":-0.06},{"x":0.515,"y":0.075},{"x":0.522,"y":0.1},{"x":0.527,"y":-0.005},{"x":0.534,"y":0.015},{"x":0.539,"y":0.13},{"x":0.546,"y":0.055},{"x":0.551,"y":-0.035},{"x":0.558,"y":-0.02},{"x":0.563,"y":0.09},{"x":0.57,"y":-0.06},{"x":0.575,"y":0.075},{"x":0.582,"y":0.1},{"x":0.587,"y":-0.005},{"x":0.594,"y":0.015},{"x":0.599,"y":0.13},{"x":0.606,"y":0.055},{"x":0.611,"y":-0.035},{"x":0.618,"y":-0.02},{"x":0.623,"y":0.09},
{"x":-0.298,"y":-0.062},{"x":-0.295,"y":-0.004},{"x":-0.3,"y":0.028},{"x":-0.294,"y":-0.031},{"x":-0.29,"y":0.014},{"x":-0.287,"y":-0.047},{"x":-0.292,"y":0.041},{"x":-0.286,"y":-0.014},{"x":-0.282,"y":-0.021},{"x":-0.279,"y":0.035},{"x":-0.284,"y":-0.056},{"x":-0.278,"y":0.005},{"x":-0.274,"y":0.021},{"x":-0.271,"y":-0.037},{"x":-0.276,"y":-0.008},{"x":-0.27,"y":0.047},{"x":-0.266,"y":-0.068},{"x":-0.263,"y":0.009},{"x":-0.268,"y":-0.018},{"x":-0.262,"y":0.031},
{"x":-0.258,"y":-0.062},{"x":-0.255,"y":-0.004},{"x":-0.26,"y":0.028},{"x":-0.254,"y":-0.031},{"x":-0.25,"y":0.014},{"x":-0.247,"y":-0.047},{"x":-0.252,"y":0.041},{"x":-0.246,"y":-0.014},{"x":-0.242,"y":-0.021},{"x":-0.239,"y":0.035},{"x":-0.244,"y":-0.056},{"x":-0.238,"y":0.005},{"x":-0.234,"y":0.021},{"x":-0.231,"y":-0.037},{"x":-0.236,"y":-0.008},{"x":-0.23,"y":0.047},{"x":-0.226,"y":-0.068},{"x":-0.223,"y":0.009},{"x":-0.228,"y":-0.018},{"x":-0.222,"y":0.031},
{"x":-0.218,"y":-0.062},{"x":-0.215,"y":-0.004},{"x":-0.22,"y":0.028},{"x":-0.214,"y":-0.031},{"x":-0.21,"y":0.014},{"x":-0.207,"y":-0.047},{"x":-0.212,"y":0.041},{"x":-0.206,"y":-0.014},{"x":-0.202,"y":-0.021},{"x":-0.199,"y":0.035},{"x":-0.204,"y":-0.056},{"x":-0.198,"y":0.005},{"x":-0.194,"y":0.021},{"x":-0.191,"y":-0.037},{"x":-0.196,"y":-0.008},{"x":-0.19,"y":0.047},{"x":-0.186,"y":-0.068},{"x":-0.183,"y":0.009},{"x":-0.188,"y":-0.018},{"x":-0.182,"y":0.031},
{"x":-0.178,"y":-0.062},{"x":-0.175,"y":-0.004},{"x":-0.18,"y":0.028},{"x":-0.174,"y":-0.031},{"x":-0.17,"y":0.014},{"x":-0.167,"y":-0.047},{"x":-0.172,"y":0.041},{"x":-0.166,"y":-0.014},{"x":-0.162,"y":-0.021},{"x":-0.159,"y":0.035},{"x":-0.164,"y":-0.056},{"x":-0.158,"y":0.005},{"x":-0.154,"y":0.021},{"x":-0.151,"y":-0.037},{"x":-0.156,"y":-0.008},{"x":-0.15,"y":0.047},{"x":-0.146,"y":-0.068},{"x":-0.143,"y":0.009},{"x":-0.148,"y":-0.018},{"x":-0.142,"y":0.031},
{"x":-0.138,"y":-0.062},{"x":-0.135,"y":-0.004},{"x":-0.14,"y":0.028},{"x":-0.134,"y":-0.031},{"x":-0.13,"y":0.014},{"x":-0.127,"y":-0.047},{"x":-0.132,"y":0.041},{"x":-0.126,"y":-0.014},{"x":-0.122,"y":-0.021},{"x":-0.119,"y":0.035},{"x":-0.124,"y":-0.056},{"x":-0.118,"y":0.005},{"x":-0.114,"y":0.021},{"x":-0.111,"y":-0.037},{"x":-0.116,"y":-0.008},{"x":-0.11,"y":0.047},{"x":-0.106,"y":-0.068},{"x":-0.103,"y":0.009},{"x":-0.108,"y":-0.018},{"x":-0.102,"y":0.031},
{"x":0.124,"y":-0.037},{"x":0.127,"y":0.021},{"x":0.122,"y":0.053},{"x":0.128,"y":-0.006},{"x":0.133,"y":0.039},{"x":0.136,"y":-0.022},{"x":0.131,"y":0.066},{"x":0.137,"y":0.011},{"x":0.142,"y":0.004},{"x":0.145,"y":0.06},{"x":0.14,"y":-0.031},{"x":0.146,"y":0.03},{"x":0.151,"y":0.046},{"x":0.154,"y":-0.012},{"x":0.149,"y":0.017},{"x":0.155,"y":0.072},{"x":0.16,"y":-0.043},{"x":0.163,"y":0.034},{"x":0.158,"y":0.007},{"x":0.164,"y":0.056},
{"x":0.169,"y":-0.037},{"x":0.172,"y":0.021},{"x":0.167,"y":0.053},{"x":0.173,"y":-0.006},{"x":0.178,"y":0.039},{"x":0.181,"y":-0.022},{"x":0.176,"y":0.066},{"x":0.182,"y":0.011},{"x":0.187,"y":0.004},{"x":0.19,"y":0.06},{"x":0.185,"y":-0.031},{"x":0.191,"y":0.03},{"x":0.196,"y":0.046},{"x":0.199,"y":-0.012},{"x":0.194,"y":0.017},{"x":0.2,"y":0.072},{"x":0.205,"y":-0.043},{"x":0.208,"y":0.034},{"x":0.203,"y":0.007},{"x":0.209,"y":0.056},
{"x":0.214,"y":-0.037},{"x":0.217,"y":0.021},{"x":0.212,"y":0.053},{"x":0.218,"y":-0.006},{"x":0.223,"y":0.039},{"x":0.226,"y":-0.022},{"x":0.221,"y":0.066},{"x":0.227,"y":0.011},{"x":0.232,"y":0.004},{"x":0.235,"y":0.06},{"x":0.23,"y":-0.031},{"x":0.236,"y":0.03},{"x":0.241,"y":0.046},{"x":0.244,"y":-0.012},{"x":0.239,"y":0.017},{"x":0.245,"y":0.072},{"x":0.25,"y":-0.043},{"x":0.253,"y":0.034},{"x":0.248,"y":0.007},{"x":0.254,"y":0.056},
{"x":0.259,"y":-0.037},{"x":0.262,"y":0.021},{"x":0.257,"y":0.053},{"x":0.263,"y":-0.006},{"x":0.268,"y":0.039},{"x":0.271,"y":-0.022},{"x":0.266,"y":0.066},{"x":0.272,"y":0.011},{"x":0.277,"y":0.004},{"x":0.28,"y":0.06},{"x":0.275,"y":-0.031},{"x":0.281,"y":0.03},{"x":0.286,"y":0.046},{"x":0.289,"y":-0.012},{"x":0.284,"y":0.017},{"x":0.29,"y":0.072},{"x":0.295,"y":-0.043},{"x":0.298,"y":0.034},{"x":0.293,"y":0.007},{"x":0.299,"y":0.056},
{"x":0.304,"y":-0.037},{"x":0.307,"y":0.021},{"x":0.302,"y":0.053},{"x":0.308,"y":-0.006},{"x":0.313,"y":0.039},{"x":0.316,"y":-0.022},{"x":0.311,"y":0.066},{"x":0.317,"y":0.011},{"x":0.322,"y":0.004},{"x":0.325,"y":0.06},{"x":0.32,"y":-0.031},{"x":0.326,"y":0.03},{"x":0.331,"y":0.046},{"x":0.334,"y":-0.012},{"x":0.329,"y":0.017},{"x":0.335,"y":0.072},{"x":0.34,"y":-0.043},{"x":0.343,"y":0.034},{"x":0.338,"y":0.007},{"x":0.344,"y":0.056},
{"x":-0.058,"y":-0.024},{"x":-0.056,"y":0.006},{"x":-0.06,"y":0.031},{"x":-0.05,"y":0.018},{"x":-0.048,"y":-0.012},{"x":-0.052,"y":-0.036},{"x":-0.042,"y":-0.003},{"x":-0.04,"y":0.027},{"x":-0.044,"y":-0.018},{"x":-0.034,"y":-0.024},{"x":-0.032,"y":0.006},{"x":-0.036,"y":0.031},{"x":-0.026,"y":0.018},{"x":-0.024,"y":-0.012},{"x":-0.028,"y":-0.036},{"x":-0.018,"y":-0.003},{"x":-0.016,"y":0.027},{"x":-0.02,"y":-0.018},{"x":-0.01,"y":-0.024},{"x":-0.008,"y":0.006},{"x":-0.012,"y":0.031},
{"x":-0.002,"y":0.018},{"x":0.0,"y":-0.012},{"x":-0.004,"y":-0.036},{"x":0.006,"y":-0.003},{"x":0.008,"y":0.027},{"x":0.004,"y":-0.018},{"x":0.014,"y":-0.024},{"x":0.016,"y":0.006},{"x":0.012,"y":0.031},{"x":0.022,"y":0.018},{"x":0.024,"y":-0.012},{"x":0.02,"y":-0.036},{"x":0.03,"y":-0.003},{"x":0.032,"y":0.027},{"x":0.028,"y":-0.018},{"x":0.038,"y":-0.024},{"x":0.04,"y":0.006},{"x":0.036,"y":0.031},{"x":0.046,"y":0.018},{"x":0.048,"y":-0.012},{"x":0.044,"y":-0.036},
{"x":0.054,"y":-0.003},{"x":0.056,"y":0.027},{"x":0.052,"y":-0.018},{"x":0.062,"y":-0.024},{"x":0.064,"y":0.006},{"x":0.06,"y":0.031},{"x":0.07,"y":0.018},{"x":0.072,"y":-0.012},{"x":0.068,"y":-0.036},{"x":0.078,"y":-0.003},{"x":0.08,"y":0.027},{"x":0.076,"y":-0.018},{"x":0.086,"y":-0.024},{"x":0.088,"y":0.006},{"x":0.084,"y":0.031},{"x":0.094,"y":0.018},{"x":0.096,"y":-0.012},{"x":0.092,"y":-0.036},{"x":0.102,"y":-0.003},{"x":0.104,"y":0.027},{"x":0.1,"y":-0.018}
]
},
"layer": [
{"data": {"name": "hgrid"}, "mark": {"type": "rule", "color": "#e8e8e8", "strokeWidth": 2},
 "encoding": {"y": {"field": "v", "type": "quantitative", "title": "e( log(1 + offshoring index) | X )", "scale": {"domain": [-0.7973, 1.0449], "nice": false, "zero": false}},
  "x": {"datum": -1.092, "type": "quantitative", "axis": null, "scale": {"domain": [-1.1256, 1.0953], "nice": false, "zero": false}}, "x2": {"datum": 1.071}}},
{"data": {"name": "vgrid"}, "mark": {"type": "rule", "color": "#e8e8e8", "strokeWidth": 2},
 "encoding": {"x": {"field": "v", "type": "quantitative", "axis": null}, "y": {"datum": -0.75, "type": "quantitative", "title": "e( log(1 + offshoring index) | X )"}, "y2": {"datum": 0.998}}},
{"data": {"name": "pts"}, "mark": {"type": "point", "shape": "square", "filled": true, "size": 10, "color": "#1c2b4f", "opacity": 1},
 "encoding": {
  "x": {"field": "x", "type": "quantitative", "axis": {"orient": "bottom", "title": "e( dum(labi) * log(1 + roboden) | X)", "values": [-1, -0.5, 0, 0.5, 1], "labelExpr": "(datum.value < 0 ? '-' : '') + replace(toString(abs(datum.value)), '0.', '.')", "grid": false, "domainColor": "black", "domainWidth": 2, "tickColor": "black", "tickWidth": 1.5, "tickSize": 9, "labelFont": "Liberation Sans", "labelFontSize": 24, "labelColor": "black", "labelPadding": 1, "titleFont": "Liberation Sans", "titleFontSize": 24.8, "titleFontWeight": "normal", "titleColor": "black", "titlePadding": 3}},
  "y": {"field": "y", "type": "quantitative", "title": "e( log(1 + offshoring index) | X )", "axis": {"values": [-0.75, -0.25, 0.25, 0.75], "labelExpr": "(datum.value < 0 ? '-' : '') + replace(toString(abs(datum.value)), '0.', '.')", "grid": false, "domainColor": "black", "domainWidth": 2, "tickColor": "black", "tickWidth": 1.5, "tickSize": 10, "labelAngle": -90, "labelAlign": "center", "labelBaseline": "bottom", "labelFont": "Liberation Sans", "labelFontSize": 24, "labelColor": "black", "labelPadding": 10, "titleFont": "Liberation Sans", "titleFontSize": 27.5, "titleFontWeight": "normal", "titleColor": "black", "titlePadding": 2, "titleY": 349}}}},
{"data": {"name": "fit"}, "mark": {"type": "area", "color": "#b4e4b4", "opacity": 1},
 "encoding": {"x": {"field": "x", "type": "quantitative", "axis": null}, "y": {"field": "lo", "type": "quantitative", "title": "e( log(1 + offshoring index) | X )"}, "y2": {"field": "hi"}}},
{"data": {"name": "fit"}, "mark": {"type": "line", "color": "#22a822", "strokeWidth": 1.5, "strokeDash": [10, 5]},
 "encoding": {"x": {"field": "x", "type": "quantitative", "axis": null}, "y": {"field": "lo", "type": "quantitative", "title": "e( log(1 + offshoring index) | X )"}}},
{"data": {"name": "fit"}, "mark": {"type": "line", "color": "#22a822", "strokeWidth": 1.5, "strokeDash": [10, 5]},
 "encoding": {"x": {"field": "x", "type": "quantitative", "axis": null}, "y": {"field": "hi", "type": "quantitative", "title": "e( log(1 + offshoring index) | X )"}}},
{"data": {"name": "fit"}, "mark": {"type": "line", "color": "#00a000", "strokeWidth": 2},
 "encoding": {"x": {"field": "x", "type": "quantitative", "axis": {"orient": "top", "title": "Labor intensity (dummy) * Robot density", "labels": false, "ticks": false, "grid": false, "domainColor": "black", "domainWidth": 2, "titleFont": "Liberation Sans", "titleFontSize": 27.4, "titleFontWeight": "normal", "titleColor": "black", "titlePadding": 6}},
  "y": {"field": "fit", "type": "quantitative", "title": "e( log(1 + offshoring index) | X )"}}}
],
"resolve": {"axis": {"x": "independent"}}
}
